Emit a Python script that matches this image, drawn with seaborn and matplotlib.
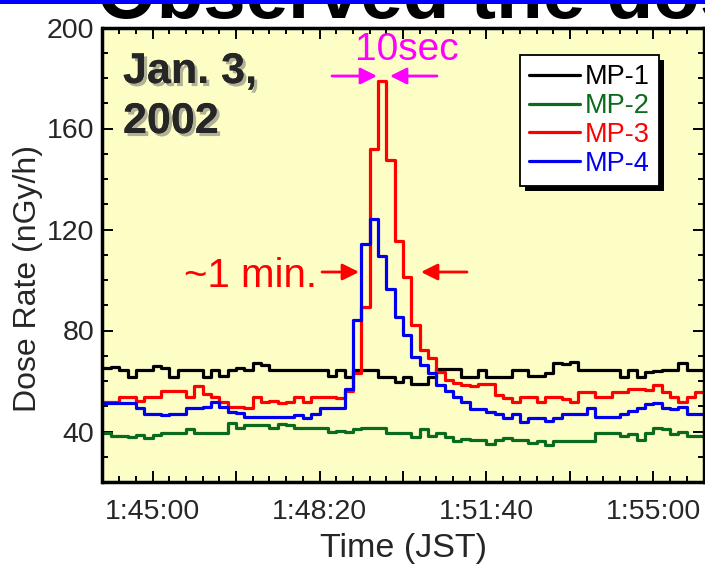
import numpy as np
import pandas as pd
import matplotlib
matplotlib.use("Agg")
import matplotlib.pyplot as plt
import seaborn as sns
from matplotlib.ticker import MultipleLocator, FuncFormatter
from matplotlib.lines import Line2D
from matplotlib.patches import Rectangle
from matplotlib.transforms import IdentityTransform
import matplotlib.patheffects as pe

# ---------------- data ----------------
start_time = "1:44:00"
end_time = "1:56:00"
bin_seconds = 10
series_names = ["MP-1", "MP-2", "MP-3", "MP-4"]
series_colors = ["#000000", "#0A6A1E", "#FF0000", "#0000EE"]

mp1 = [65, 65.6, 64.3, 61.6, 64.3, 64.3, 66, 65, 61.6, 64.3,
       64.3, 64.3, 61.6, 64.3, 62, 64.3, 65, 64.3, 67, 66.3,
       64.3, 64.3, 64.3, 64.3, 64.3, 64.3, 64.3, 62, 64.3, 61.6,
       64.3, 64.3, 64.3, 61.6, 61.6, 59.6, 61.6, 59, 59, 61.6,
       64.6, 64.6, 64.6, 61.6, 61.6, 64.3, 61.6, 61.6, 61.6, 64.3,
       64.3, 61.8, 61.8, 63.2, 67, 66.8, 67.4, 64.3, 64.3, 64.3,
       64.3, 64.3, 61.6, 64.3, 61.6, 63.6, 64, 64.3, 64.3, 67,
       64.3, 64.3]
mp2 = [39.5, 38.1, 38.1, 37.8, 38.7, 37.3, 38.7, 39.3, 39.5, 39.5,
       40.8, 39.5, 39.5, 39.4, 39.4, 43.5, 41.3, 42.7, 42.7, 42.5,
       41.5, 42.8, 42.4, 41.3, 41.3, 41.3, 41.3, 39.7, 40.2, 39.7,
       40.8, 41.3, 41.5, 41.3, 39.5, 39.5, 39.3, 38, 41.1, 38.4,
       39.3, 38, 36.4, 37, 36.6, 36.6, 35.1, 36.8, 37.5, 36.6,
       36.6, 35.4, 36.4, 34.8, 36.4, 36.4, 36.4, 36.4, 36.4, 39.5,
       39.5, 39.5, 38.4, 39.1, 36.8, 39.5, 41.3, 40.8, 39.1, 39.7,
       38.4, 38.1]
mp3 = [51.7, 51.7, 53.7, 53.7, 52, 53.7, 53.7, 55.9, 55.9, 55.9,
       53.7, 58, 55, 53.7, 51.7, 49.7, 49.7, 49.4, 53.7, 51.7,
       52.1, 51.3, 51.7, 53.7, 51.7, 53.7, 53.7, 53.7, 53.3, 55.9,
       63, 89.3, 152, 178.8, 147.7, 115.4, 101.2, 82.2, 72.3, 69.2,
       63.4, 60.2, 59.3, 58.6, 58, 58.7, 58.7, 54.3, 53.4, 51.7,
       53.8, 53.8, 51.7, 53.8, 53.8, 53, 51.7, 55.8, 55.8, 53.6,
       53.6, 55.8, 55.8, 56.7, 57, 56.3, 58.6, 55.8, 53.6, 51.7,
       53.6, 55.8]
mp4 = [51.4, 51.4, 51.4, 51.4, 49.4, 47, 47, 46.4, 47, 46.8,
       49.4, 49.3, 49.7, 51.7, 49.7, 47.7, 47.3, 45.7, 45.7, 45.7,
       45.7, 45.7, 45.7, 46.4, 45.5, 47, 49.4, 49.4, 49.4, 57,
       84.2, 114.1, 124.3, 109.7, 96.5, 85.3, 78.4, 69.4, 66.3, 63.2,
       58.3, 56.1, 53.7, 51.7, 49, 49, 47.7, 47, 45.5, 47,
       43.7, 45.5, 45.5, 44, 45.5, 47, 47, 47, 49.3, 45.7,
       45.7, 45.7, 47, 48, 49.3, 51, 51.4, 49.4, 49.1, 49.7,
       47, 47]

x_tick_labels = ["1:45:00", "1:48:20", "1:51:40", "1:55:00"]
y_tick_values = [40, 80, 120, 160, 200]
y_limits = (20, 200)


def to_sec(s):
    h, m, sec = (int(p) for p in s.split(":"))
    return h * 3600 + m * 60 + sec


def fmt_time(v):
    v = int(round(v))
    return f"{v // 3600}:{(v % 3600) // 60:02d}:{v % 60:02d}"


t0 = to_sec(start_time)
t1 = to_sec(end_time)
series_values = [mp1, mp2, mp3, mp4]
rows = []
for name, vals in zip(series_names, series_values):
    n = len(vals)
    times = t0 + bin_seconds * np.arange(n + 1)
    ext = list(vals) + [vals[-1]]
    for t, v in zip(times, ext):
        rows.append({"t": t, "rate": v, "monitor": name})
df = pd.DataFrame(rows)

# ---------------- style ----------------
sns.set_style("ticks")
regular = ["Liberation Sans", "DejaVu Sans"]
plt.rcParams["font.family"] = regular

fig = plt.figure(figsize=(7.05, 5.70), dpi=100)
W, H = 705, 570
ax_left, ax_right, ax_top, ax_bottom = 102.5, 703.5, 27.5, 482.0
ax = fig.add_axes([ax_left / W, 1 - ax_bottom / H,
                   (ax_right - ax_left) / W, (ax_bottom - ax_top) / H])
ax.set_facecolor("#FDFDC6")

sns.lineplot(data=df, x="t", y="rate", hue="monitor", hue_order=series_names,
             palette=series_colors, drawstyle="steps-post", linewidth=2.3,
             estimator=None, legend=False, ax=ax)

ax.set_xlim(t0, t1)
ax.set_ylim(*y_limits)

label_secs = [to_sec(s) for s in x_tick_labels]
ax.xaxis.set_major_locator(MultipleLocator(100))
ax.xaxis.set_minor_locator(MultipleLocator(20))
ax.xaxis.set_major_formatter(FuncFormatter(
    lambda v, p: fmt_time(v) if int(round(v)) in label_secs else ""))
ax.set_yticks(y_tick_values)
ax.yaxis.set_minor_locator(MultipleLocator(10))

for s in ax.spines.values():
    s.set_linewidth(2.5)
    s.set_color("black")
    s.set_visible(True)

ax.tick_params(which="both", direction="in", top=True, right=True,
               color="black", width=1.4)
ax.tick_params(which="major", length=8)
ax.tick_params(which="minor", length=4.5)
ax.tick_params(axis="x", which="major", pad=12)
ax.tick_params(axis="y", which="major", pad=6)
for lab in ax.get_xticklabels() + ax.get_yticklabels():
    lab.set_fontsize(20.5)

ax.set_xlabel("Time (JST)", fontsize=24.5)
ax.set_ylabel("Dose Rate (nGy/h)", fontsize=23)
ax.xaxis.set_label_coords(0.5, -0.112)
ax.yaxis.set_label_coords(-0.099, 0.447)


def ax_xy(px, py):
    return ((px - ax_left) / (ax_right - ax_left),
            1 - (py - ax_top) / (ax_bottom - ax_top))


# date text with shadow
shadow = [pe.withSimplePatchShadow(offset=(2.2, -2.2), shadow_rgbFace="0.45",
                                   alpha=0.55), pe.Normal()]
x0, y0 = ax_xy(123, 83)
ax.text(x0, y0, "Jan. 3,", transform=ax.transAxes, fontsize=31,
        fontweight="bold", va="baseline", ha="left", path_effects=shadow)
x0, y0 = ax_xy(123, 133)
ax.text(x0, y0, "2002", transform=ax.transAxes, fontsize=31,
        fontweight="bold", va="baseline", ha="left", path_effects=shadow)

# 10sec annotation
x0, y0 = ax_xy(407, 60)
ax.text(x0, y0, "10sec", transform=ax.transAxes, fontsize=28,
        color="#FF00FF", ha="center", va="baseline")
arrow_kw = dict(arrowstyle="-|>,head_length=1.0,head_width=0.5",
                lw=2.0, shrinkA=0, shrinkB=0)
ax.annotate("", xy=ax_xy(377, 76), xytext=ax_xy(332, 76),
            xycoords="axes fraction", textcoords="axes fraction",
            arrowprops=dict(color="#FF00FF", **arrow_kw))
ax.annotate("", xy=ax_xy(390, 76), xytext=ax_xy(437, 76),
            xycoords="axes fraction", textcoords="axes fraction",
            arrowprops=dict(color="#FF00FF", **arrow_kw))

# ~1 min annotation
x0, y0 = ax_xy(250, 287)
ax.text(x0, y0, "~1 min.", transform=ax.transAxes, fontsize=29,
        color="#FF0000", ha="center", va="baseline")
ax.annotate("", xy=ax_xy(359, 272), xytext=ax_xy(322, 272),
            xycoords="axes fraction", textcoords="axes fraction",
            arrowprops=dict(color="#FF0000", **arrow_kw))
ax.annotate("", xy=ax_xy(421, 272), xytext=ax_xy(467, 272),
            xycoords="axes fraction", textcoords="axes fraction",
            arrowprops=dict(color="#FF0000", **arrow_kw))

# legend
handles = [Line2D([], [], color=c, lw=2.3) for c in series_colors]
leg = ax.legend(handles, series_names, loc="upper left",
                bbox_to_anchor=ax_xy(520, 55), borderaxespad=0,
                fontsize=19.5, handlelength=1.85, handletextpad=0.2,
                labelspacing=0.1, borderpad=0.35, fancybox=False,
                framealpha=1, facecolor="white", edgecolor="black",
                labelcolor="linecolor")
leg.get_frame().set_linewidth(1.3)
leg.set_zorder(6)

fig.canvas.draw()
bb = leg.get_window_extent()
ax.add_patch(Rectangle((bb.x0 + 5, bb.y0 - 5), bb.width, bb.height,
                       transform=IdentityTransform(), facecolor="black",
                       edgecolor="none", zorder=5.5, clip_on=False))

# partially visible slide title at the very top
fig.text(97 / W, 1 - 18 / H, "Observed the dose rate", fontsize=55,
         fontweight="bold", va="baseline", ha="left", color="black")
fig.patches.append(Rectangle((0, 1 - 3.5 / H), 1, 3.5 / H,
                             transform=fig.transFigure, facecolor="#0000FF",
                             edgecolor="none", zorder=10))

fig.savefig("out.png", dpi=100)
